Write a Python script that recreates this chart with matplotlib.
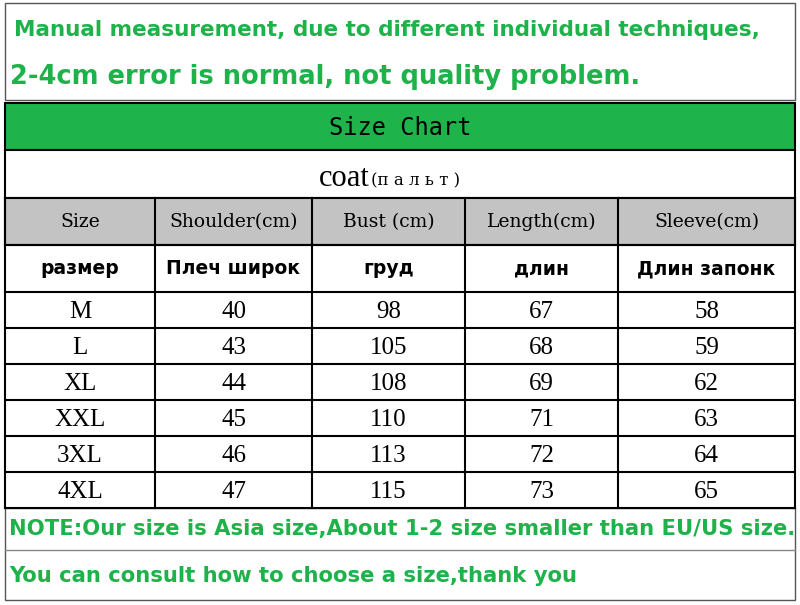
import matplotlib
matplotlib.use("Agg")
import matplotlib.pyplot as plt
from matplotlib.patches import Rectangle

note_top = ["Manual measurement, due to different individual techniques,",
            "2-4cm error is normal, not quality problem."]
title = "Size Chart"
subtitle = "coat"
subtitle_ru = "(п а л ь т )"
headers = ["Size", "Shoulder(cm)", "Bust (cm)", "Length(cm)", "Sleeve(cm)"]
headers_ru = ["размер", "Плеч широк", "груд", "длин", "Длин запонк"]
sizes = ["M", "L", "XL", "XXL", "3XL", "4XL"]
shoulder = [40, 43, 44, 45, 46, 47]
bust = [98, 105, 108, 110, 113, 115]
length = [67, 68, 69, 71, 72, 73]
sleeve = [58, 59, 62, 63, 64, 65]
note_bottom = ["NOTE:Our size is Asia size,About 1-2 size smaller than EU/US size.",
               "You can consult how to choose a size,thank you"]

W, H = 800, 605
fig = plt.figure(figsize=(8, 6.05), dpi=100)
ax = fig.add_axes([0, 0, 1, 1])
ax.set_xlim(0, W); ax.set_ylim(H, 0); ax.axis("off")

green_txt = "#1db34a"
L, R = 5, 795
cols = [5, 155, 312, 465, 618, 795]
lw = 1.5

def hline(y, x0=L, x1=R, c="black", w=lw):
    ax.plot([x0, x1], [y, y], color=c, lw=w)

ax.add_patch(Rectangle((L, 3), R - L, 97, fill=False, ec="#555555", lw=1))
ax.text(14, 30, note_top[0], color=green_txt, fontsize=15.5, fontweight="bold",
        family="DejaVu Sans", va="center")
ax.text(10, 77, note_top[1], color=green_txt, fontsize=18.5, fontweight="bold",
        family="DejaVu Sans", va="center")

ax.add_patch(Rectangle((L, 103), R - L, 47, fc="#1fb34c", ec="black", lw=lw))
ax.text(W / 2, 128, title, fontsize=17, family="DejaVu Sans Mono", ha="center", va="center")

ax.add_patch(Rectangle((L, 150), R - L, 48, fc="white", ec="black", lw=lw))
ax.text(370, 178, subtitle, fontsize=22, family="Liberation Serif", ha="right", va="center")
ax.text(371, 181, subtitle_ru, fontsize=12, family="DejaVu Serif", ha="left", va="center")

ax.add_patch(Rectangle((L, 198), R - L, 47, fc="#c3c3c3", ec="black", lw=lw))
for i, h in enumerate(headers):
    cx = (cols[i] + cols[i + 1]) / 2
    ax.text(cx, 222, h, fontsize=13.5, family="DejaVu Serif", ha="center", va="center")
    ax.text(cx, 269, headers_ru[i], fontsize=13.5, fontweight="bold", family="DejaVu Sans",
            ha="center", va="center")

data = list(zip(sizes, shoulder, bust, length, sleeve))
rh = (508 - 292) / 6
for r, row in enumerate(data):
    cy = 292 + rh * (r + 0.5)
    for i, v in enumerate(row):
        cx = (cols[i] + cols[i + 1]) / 2
        ax.text(cx, cy + 2, str(v), fontsize=18, family="Liberation Serif", ha="center", va="center")

for y in [245, 292] + [292 + rh * k for k in range(1, 7)]:
    hline(y)
for x in cols:
    ax.plot([x, x], [198, 508], color="black", lw=lw)

ax.add_patch(Rectangle((L, 508), R - L, 92, fill=False, ec="#555555", lw=1))
hline(550, c="#888888", w=1)
ax.text(9, 529, note_bottom[0], color=green_txt, fontsize=15.2, fontweight="bold",
        family="DejaVu Sans", va="center")
ax.text(9, 576, note_bottom[1], color=green_txt, fontsize=15.2, fontweight="bold",
        family="DejaVu Sans", va="center")

fig.savefig("out.png", dpi=100)
